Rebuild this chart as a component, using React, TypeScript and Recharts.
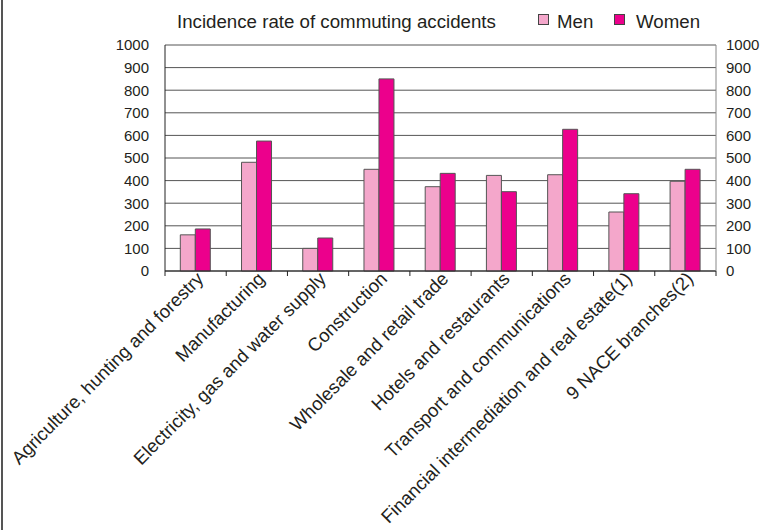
import { BarChart, Bar, XAxis, YAxis, CartesianGrid } from 'recharts';

const categories = [
  'Agriculture, hunting and forestry',
  'Manufacturing',
  'Electricity, gas and water supply',
  'Construction',
  'Wholesale and retail trade',
  'Hotels and restaurants',
  'Transport and communications',
  'Financial intermediation and real estate(1)',
  '9 NACE branches(2)',
];
const menValues = [160, 481, 100, 450, 373, 423, 426, 261, 397];
const womenValues = [186, 575, 146, 850, 432, 351, 627, 342, 450];
const yTicks = [0, 100, 200, 300, 400, 500, 600, 700, 800, 900, 1000];

const data = categories.map((name, i) => ({
  name,
  Men: menValues[i],
  Women: womenValues[i],
}));

const FONT = '"Liberation Sans", Arial, sans-serif';
const TEXT = '#231f20';
const MEN_COLOR = '#f4a7cb';
const WOMEN_COLOR = '#ec008c';

// category label rotated 45deg, plus the small tick between categories
function CategoryTick(props: any) {
  const { x, y, payload, index, visibleTicksCount } = props;
  const off = payload.offset ?? 0;
  return (
    <g>
      <line x1={x - off} x2={x - off} y1={y} y2={y + 5} stroke="#222" />
      {index === visibleTicksCount - 1 && (
        <line x1={x + off} x2={x + off} y1={y} y2={y + 5} stroke="#222" />
      )}
      <text
        x={0}
        y={0}
        transform={`translate(${x + 9},${y + 9}) rotate(-45)`}
        textAnchor="end"
        fill={TEXT}
        fontSize={18.5}
        fontFamily={FONT}
      >
        {payload.value}
      </text>
    </g>
  );
}

export default function App() {
  return (
    <div
      style={{
        position: 'absolute',
        left: 0,
        top: 0,
        width: 763,
        height: 530,
        background: '#fff',
      }}
    >
      <BarChart
        width={763}
        height={530}
        data={data}
        margin={{ top: 45, right: 7, left: 105, bottom: 0 }}
        barCategoryGap="25%"
        barGap={0}
      >
        <CartesianGrid vertical={false} stroke="#555" yAxisId="left" />
        <XAxis
          dataKey="name"
          height={259}
          interval={0}
          tickLine={false}
          tickSize={0}
          tickMargin={0}
          axisLine={{ stroke: '#222' }}
          tick={<CategoryTick />}
        />
        <YAxis
          yAxisId="left"
          domain={[0, 1000]}
          ticks={yTicks}
          interval={0}
          width={60}
          tickLine={false}
          tickSize={0}
          tickMargin={16}
          axisLine={{ stroke: '#222' }}
          tick={{ fill: TEXT, fontSize: 15, fontFamily: FONT }}
        />
        <YAxis
          yAxisId="right"
          orientation="right"
          domain={[0, 1000]}
          ticks={yTicks}
          interval={0}
          width={40}
          tickLine={false}
          tickSize={0}
          tickMargin={10}
          axisLine={{ stroke: '#888' }}
          tick={{ fill: TEXT, fontSize: 15, fontFamily: FONT }}
        />
        <Bar
          yAxisId="left"
          dataKey="Men"
          fill={MEN_COLOR}
          stroke="#555"
          strokeWidth={1}
          isAnimationActive={false}
        />
        <Bar
          yAxisId="right"
          dataKey="Women"
          fill={WOMEN_COLOR}
          stroke="#555"
          strokeWidth={1}
          isAnimationActive={false}
        />
      </BarChart>
      {/* title and legend */}
      <svg
        width={763}
        height={530}
        style={{ position: 'absolute', left: 0, top: 0, pointerEvents: 'none' }}
      >
        <line x1={2} x2={2} y1={0} y2={530} stroke="#555" strokeWidth={2} />
        <text x={177} y={28} fontSize={18.7} fontFamily={FONT} fill={TEXT}>
          Incidence rate of commuting accidents
        </text>
        <rect x={538.5} y={14.5} width={10} height={10} fill={MEN_COLOR} stroke="#444" />
        <text x={557} y={28} fontSize={18.7} fontFamily={FONT} fill={TEXT}>
          Men
        </text>
        <rect x={614.5} y={14.5} width={10} height={10} fill={WOMEN_COLOR} stroke="#444" />
        <text x={636} y={28} fontSize={18.7} fontFamily={FONT} fill={TEXT}>
          Women
        </text>
      </svg>
    </div>
  );
}
